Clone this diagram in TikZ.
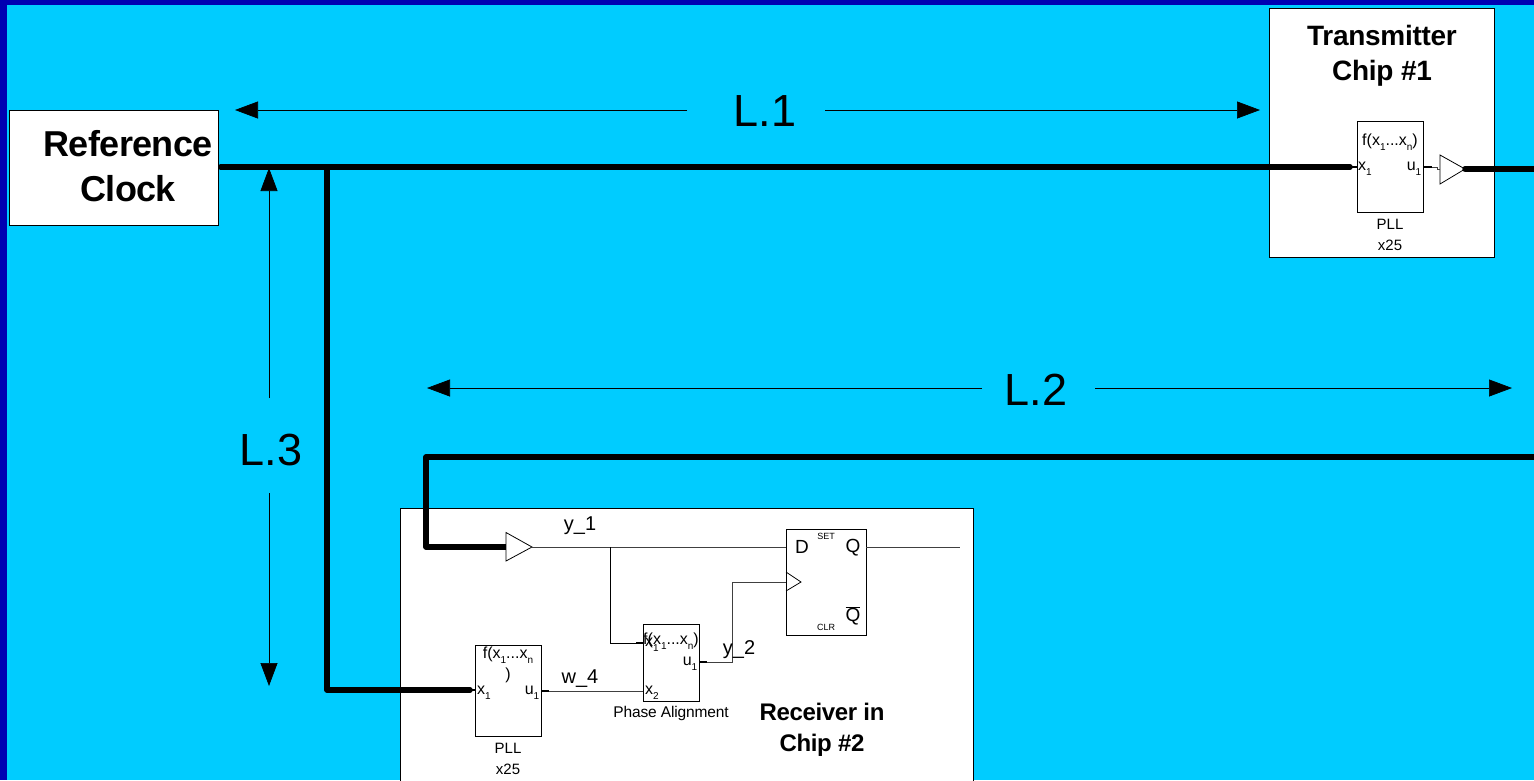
\documentclass[tikz,border=0pt]{standalone}
\usepackage{fontspec}
\setmainfont{Liberation Sans}
\usetikzlibrary{arrows.meta}
\definecolor{sky}{RGB}{0,204,255}
\definecolor{navy2}{RGB}{0,0,178}
\newcommand{\fs}[1]{\fontsize{#1}{#1}\selectfont}
\newcommand{\sbt}[1]{\raisebox{-4.5pt}{\fs{10}#1}}
\tikzset{
  x=1pt,y=-1pt,
  panel/.style={draw=black,fill=white,line width=0.9pt,inner sep=0,anchor=north west},
  block/.style={draw=black,fill=white,line width=0.9pt,inner sep=0,anchor=north west},
  bus/.style={line width=5.5pt,line join=round,line cap=round},
  wire/.style={line width=0.9pt,draw=black!75},
  stub/.style={line width=2pt},
  dim/.style={line width=0.7pt,-{Triangle[length=23pt,width=17pt]}},
  bigl/.style={font=\fs{45},inner sep=0},
  title/.style={font=\bfseries,align=center,inner sep=0},
  lbl/.style={inner sep=0},
  amp/.style={draw=black,fill=white,line width=0.8pt},
}
\begin{document}
\begin{tikzpicture}
\clip (0,0) rectangle (1534,780);
\fill[navy2] (0,0) rectangle (1534,780);
\fill[sky] (7,5) rectangle (1534,780);

% white panels
\node[panel,minimum width=208.5pt,minimum height=114.5pt] (ref) at (9,110) {};
\node[panel,minimum width=225.5pt,minimum height=249pt] (tx) at (1268.5,8) {};
\node[panel,minimum width=572.5pt,minimum height=290pt] (rx) at (400,508) {};

% named connection points
\coordinate (refout) at (218,167);
\coordinate (j1) at (327,167);
\coordinate (j1b) at (327,690);
\coordinate (pll2stub) at (470,690);
\coordinate (pll1stub) at (1350,167);
\coordinate (txend) at (1534,169);
\coordinate (rxstart) at (1534,457);
\coordinate (c1) at (426,457);
\coordinate (c2) at (426,547);

% blocks
\node[block,minimum width=66pt,minimum height=91pt] (pll1) at (1357,121) {};
\node[block,minimum width=66pt,minimum height=91pt] (pll2) at (475,645) {};
\node[block,minimum width=56pt,minimum height=77pt] (pa) at (643,623.5) {};
\node[block,minimum width=80pt,minimum height=106pt] (ff) at (786,529) {};

% buffers
\coordinate (b1in) at (1440,169);
\coordinate (b1out) at (1465,169);
\coordinate (b2in) at (506,547);
\coordinate (b2out) at (532,547);
\draw[amp] (1440,155) -- (b1out) -- (1440,184) -- cycle;
\draw[amp] (506,532.5) -- (b2out) -- (506,561) -- cycle;

% thick buses
\draw[bus,shorten <=2.75pt] (refout) -- (pll1stub);
\draw[bus] (j1) -- (j1b) -- (pll2stub);
\draw[bus] (b1out) -- (txend);
\draw[bus,line cap=butt] (rxstart) -- (c1) -- (c2) -- (b2in);

% thin wiring
\coordinate (pll1x) at (1357,167);
\coordinate (pll1u) at (1423,167);
\coordinate (pll2x) at (475,690);
\coordinate (pll2u) at (541,691);
\coordinate (pax1) at (643,643);
\coordinate (pax2) at (643,691);
\coordinate (pau) at (699,662);
\coordinate (ffd) at (786,547);
\coordinate (ffclk) at (786,582);
\coordinate (ffq) at (866,547);
\coordinate (qend) at (960,547);
\coordinate (tap) at (610.5,547);
\draw[stub] (pll1stub) -- (pll1x);
\draw[stub] (pll2stub) -- (pll2x);
\draw[wire] (pll1u) -- (1437,167) -- (1437,169) -- (b1in);
\draw[stub] (pll1u) -- (1432,167);
\draw[wire] (b2out) -- (ffd);
\draw[wire,black] (tap) -- (610.5,643) -- (pax1);
\draw[stub] (636,643) -- (pax1);
\draw[wire] (pll2u) -- (pax2);
\draw[stub] (pll2u) -- (549,691);
\draw[wire] (pau) -- (732.5,662) -- (732.5,582) -- (ffclk);
\draw[stub] (pau) -- (707,662);
\draw[wire] (ffq) -- (qend);
\draw[line width=0.8pt] (786,572) -- (801,582) -- (786,591);

% dimension arrows
\coordinate (l1a) at (687,110);\coordinate (l1atip) at (235,110);
\coordinate (l1b) at (825,110);\coordinate (l1btip) at (1260,110);
\coordinate (l2a) at (982,388);\coordinate (l2atip) at (427,388);
\coordinate (l2b) at (1095,388);\coordinate (l2btip) at (1512,388);
\coordinate (l3a) at (269,398);\coordinate (l3atip) at (269,168);
\coordinate (l3b) at (269,493);\coordinate (l3btip) at (269,686);
\draw[dim] (l1a) -- (l1atip);
\draw[dim] (l1b) -- (l1btip);
\draw[dim] (l2a) -- (l2atip);
\draw[dim] (l2b) -- (l2btip);
\draw[dim] (l3a) -- (l3atip);
\draw[dim] (l3b) -- (l3btip);
\node[bigl] (L1) at (765,111) {L.1};
\node[bigl] (L2) at (1036,390) {L.2};
\node[bigl] (L3) at (271,450) {L.3};

% titles
\node[title,font=\fs{36}\bfseries] (reftext) at (128,166) {\addfontfeature{LetterSpace=-1.5}Reference\\[9pt]\addfontfeature{LetterSpace=-1.5}Clock};
\node[title,font=\fs{28}\bfseries] (txtext) at (1382,56) {\addfontfeature{LetterSpace=-1}Transmitter\\[7pt]\addfontfeature{LetterSpace=-1}Chip \#1};
\node[title,font=\fs{24}\bfseries] (rxtext) at (822,730) {\addfontfeature{LetterSpace=-1.5}Receiver in\\[7pt]\addfontfeature{LetterSpace=-1.5}Chip \#2};

% PLL 1 labels
\node[lbl,font=\fs{16}] (p1f) at (1390,142) {f(x\sbt{1}...x\sbt{n})};
\node[lbl,font=\fs{16}] (p1x) at (1365,169) {x\sbt{1}};
\node[lbl,font=\fs{16}] (p1u) at (1414,169) {u\sbt{1}};
\node[lbl,font=\fs{15}] (p1n) at (1390,224) {PLL};
\node[lbl,font=\fs{15}] (p1m) at (1390,245) {x25};

% PLL 2 labels
\node[lbl,font=\fs{16}] (p2f) at (508,655) {f(x\sbt{1}...x\sbt{n}};
\node[lbl,font=\fs{16}] (p2p) at (508,675) {)};
\node[lbl,font=\fs{16}] (p2x) at (484,693) {x\sbt{1}};
\node[lbl,font=\fs{16}] (p2u) at (532,693) {u\sbt{1}};
\node[lbl,font=\fs{15}] (p2n) at (508,748) {PLL};
\node[lbl,font=\fs{15}] (p2m) at (508,769) {x25};

% phase alignment labels
\node[lbl,font=\fs{16}] (paf) at (671,641) {f(x\sbt{1}...x\sbt{n})};
\node[lbl,font=\fs{16}] (pax) at (652,645) {x\sbt{1}};
\node[lbl,font=\fs{16}] (pay) at (652,693) {x\sbt{2}};
\node[lbl,font=\fs{16}] (pauu) at (690,664) {u\sbt{1}};
\node[lbl,font=\fs{15.5}] (pan) at (671,713) {\addfontfeature{LetterSpace=-1}Phase Alignment};

% signal labels
\node[lbl,font=\fs{20}] (y1) at (580,526) {y\_1};
\node[lbl,font=\fs{20}] (w4) at (580,679) {w\_4};
\node[lbl,font=\fs{20}] (y2) at (739,650) {y\_2};

% flip-flop labels
\node[lbl,font=\fs{19}] (ffD) at (802,547) {D};
\node[lbl,font=\fs{19}] (ffQ) at (853,548) {Q};
\node[lbl,font=\fs{19}] (ffQb) at (853,616) {$\overline{\mbox{Q}}$};
\node[lbl,font=\fs{9}] (ffS) at (826,536) {SET};
\node[lbl,font=\fs{9}] (ffC) at (826,627) {CLR};
\end{tikzpicture}
\end{document}
